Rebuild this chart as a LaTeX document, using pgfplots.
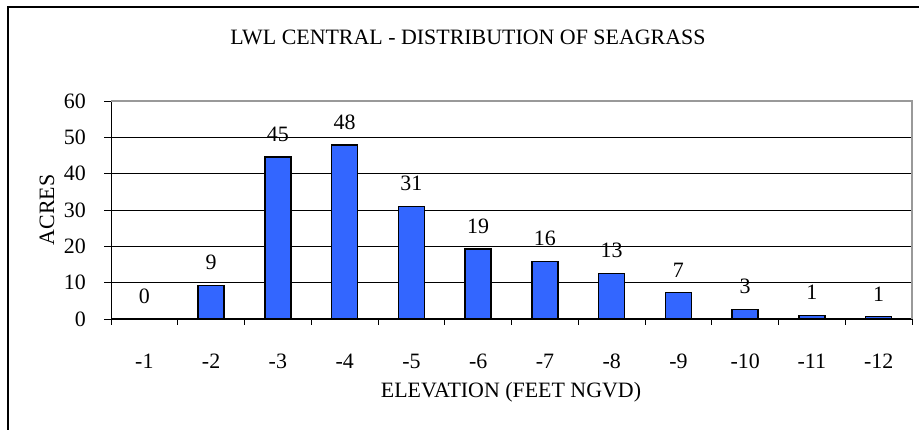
\documentclass[border=0pt]{standalone}
\usepackage{fontspec}
\setmainfont{Liberation Serif}
\usepackage{pgfplots}
\pgfplotsset{compat=1.18}
\definecolor{barblue}{HTML}{3366FF}
\newcommand{\fs}{\fontsize{22}{26}\selectfont}
\begin{document}
\begin{tikzpicture}
\useasboundingbox (0,0) rectangle (919bp,430bp);
\draw[line width=2.2bp] (8bp,-10bp) -- (8bp,423bp) -- (940bp,423bp);
\begin{axis}[
  at={(111bp,111bp)}, anchor=south west,
  scale only axis, width=801bp, height=218bp,
  xmin=0.5, xmax=12.5, ymin=0, ymax=60,
  ytick={0,10,...,60},
  xtick={1,...,12},
  xticklabels={-1,-2,-3,-4,-5,-6,-7,-8,-9,-10,-11,-12},
  minor xtick={0.5,1.5,...,12.5},
  major x tick style={draw=none},
  minor x tick style={black, line width=0.9bp},
  major y tick style={black, line width=0.9bp},
  major tick length=7bp, minor tick length=6bp,
  tick align=outside,
  axis x line*=bottom, axis y line*=left,
  axis line style={black, line width=1bp, -},
  ymajorgrids, grid style={black, line width=0.8bp},
  /pgf/number format/assume math mode=true,
  tick label style={font=\fs},
  xticklabel style={anchor=center, yshift=-35bp},
  yticklabel style={anchor=east, inner sep=0pt, xshift=-18bp},
  ybar, bar width=26bp,
  clip=false,
  nodes near coords={\pgfmathprintnumber[fixed,precision=0]{\pgfplotspointmeta}},
  every node near coord/.append style={font=\fs, anchor=center, yshift=23bp, black},
]
\addplot[draw=none, fill=none, bar shift=0pt] coordinates {(1,0)};
\addplot[fill=barblue, draw=black, line width=1.3bp, bar shift=0pt] coordinates {
(2,9.2) (3,44.6) (4,47.9) (5,31) (6,19.3) (7,15.9) (8,12.6) (9,7.2) (10,2.6) (11,1.0) (12,0.6)};
\draw[gray!80, line width=1.2bp] (rel axis cs:0,1) -- (rel axis cs:1,1) -- (rel axis cs:1,0);
\end{axis}
\node[font=\fs] at (468bp,393bp) {LWL CENTRAL - DISTRIBUTION OF SEAGRASS};
\node[font=\fs, rotate=90] at (47bp,220bp) {ACRES};
\node[font=\fs] at (511bp,38bp) {ELEVATION (FEET NGVD)};
\end{tikzpicture}
\end{document}
